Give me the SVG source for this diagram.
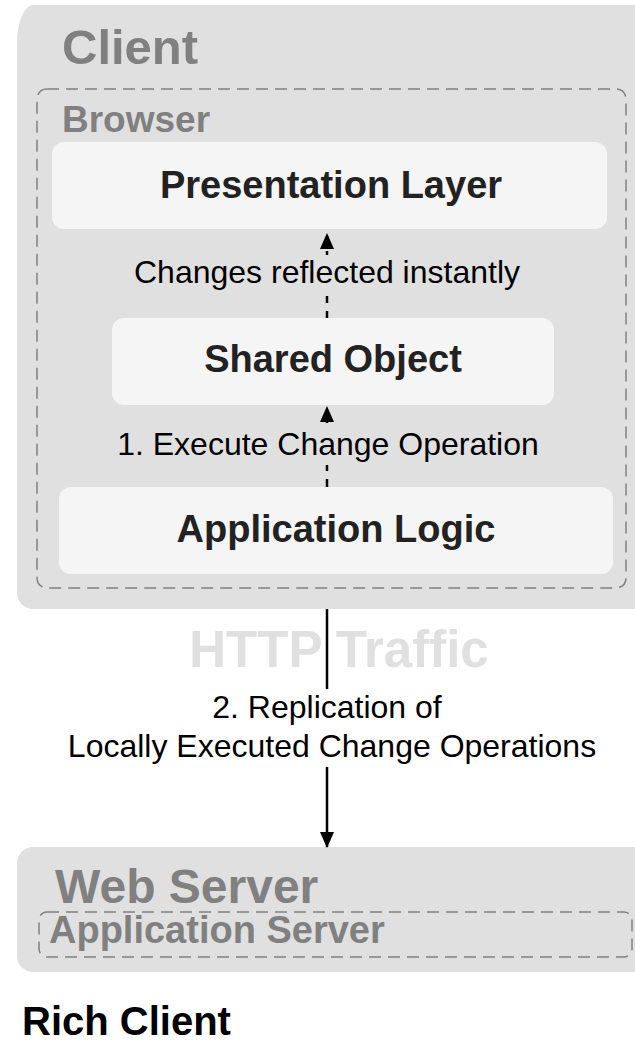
<svg xmlns="http://www.w3.org/2000/svg" width="635" height="1044" viewBox="0 0 635 1044">
<style>
.bg{fill:#e0e0e0}
.node{fill:#f5f5f5}
.dash{fill:none;stroke:#808080;stroke-width:1.5;stroke-dasharray:12 7}
.title{font-family:"Liberation Sans",Arial,sans-serif;font-weight:bold;fill:#808080}
.nlabel{font-family:"Liberation Sans",Arial,sans-serif;font-weight:bold;font-size:38px;fill:#222222;text-anchor:middle}
.elabel{font-family:"Liberation Sans",Arial,sans-serif;font-size:32px;fill:#000000;text-anchor:middle}
.conn{stroke:#000;stroke-width:2.5;fill:none}
</style>
<defs>
<marker id="ah" viewBox="0 0 16 14" refX="15" refY="7" markerWidth="16" markerHeight="14" markerUnits="userSpaceOnUse" orient="auto">
<path d="M0 0 L16 7 L0 14 Z" fill="#000"/>
</marker>
</defs>
<rect width="635" height="1044" fill="#ffffff"/>
<g id="client">
<path class="bg" d="M33 5 H645 V609 H33 A16 16 0 0 1 17 593 V43 A16 38 0 0 1 33 5 Z"/>
<text class="title" x="62" y="64" font-size="49">Client</text>
</g>
<g id="browser">
<rect class="dash" x="37" y="89" width="589" height="499" rx="10"/>
<text class="title" x="62" y="132" font-size="37">Browser</text>
</g>
<g id="presentation-layer">
<rect class="node" x="52" y="142" width="555" height="87" rx="12"/>
<text class="nlabel" x="331" y="198">Presentation Layer</text>
</g>
<g id="shared-object">
<rect class="node" x="112" y="318" width="442" height="87" rx="12"/>
<text class="nlabel" x="333" y="372">Shared Object</text>
</g>
<g id="application-logic">
<rect class="node" x="59" y="487" width="554" height="87" rx="12"/>
<text class="nlabel" x="336" y="542">Application Logic</text>
</g>
<g id="http-traffic">
<text x="339" y="667" font-family="Liberation Sans, Arial, sans-serif" font-weight="bold" font-size="51" fill="#e0e0e0" text-anchor="middle">HTTP Traffic</text>
</g>
<g id="web-server">
<rect class="bg" x="17" y="847" width="640" height="125" rx="16"/>
<text class="title" x="55" y="903" font-size="48">Web Server</text>
</g>
<g id="application-server">
<rect class="dash" x="39" y="912" width="593" height="45" rx="8"/>
<text class="title" x="49" y="943" font-size="38">Application Server</text>
</g>
<g id="connectors">
<line class="conn" x1="327" y1="318" x2="327" y2="234" stroke-dasharray="7 8" marker-end="url(#ah)"/>
<rect class="bg" x="126" y="255" width="402" height="37"/>
<text class="elabel" x="327" y="283">Changes reflected instantly</text>
<line class="conn" x1="327" y1="487" x2="327" y2="407" stroke-dasharray="8 8" marker-end="url(#ah)"/>
<rect class="bg" x="110" y="428" width="436" height="37"/>
<text class="elabel" x="328" y="455">1. Execute Change Operation</text>
<line class="conn" x1="327" y1="609" x2="327" y2="847" marker-end="url(#ah)"/>
<rect fill="#ffffff" x="58" y="689" width="548" height="78"/>
<text class="elabel" x="327" y="718">2. Replication of</text>
<text class="elabel" x="332" y="757">Locally Executed Change Operations</text>
</g>
<g id="caption">
<text x="22" y="1035" font-family="Liberation Sans, Arial, sans-serif" font-weight="bold" font-size="40" fill="#000">Rich Client</text>
</g>
</svg>
